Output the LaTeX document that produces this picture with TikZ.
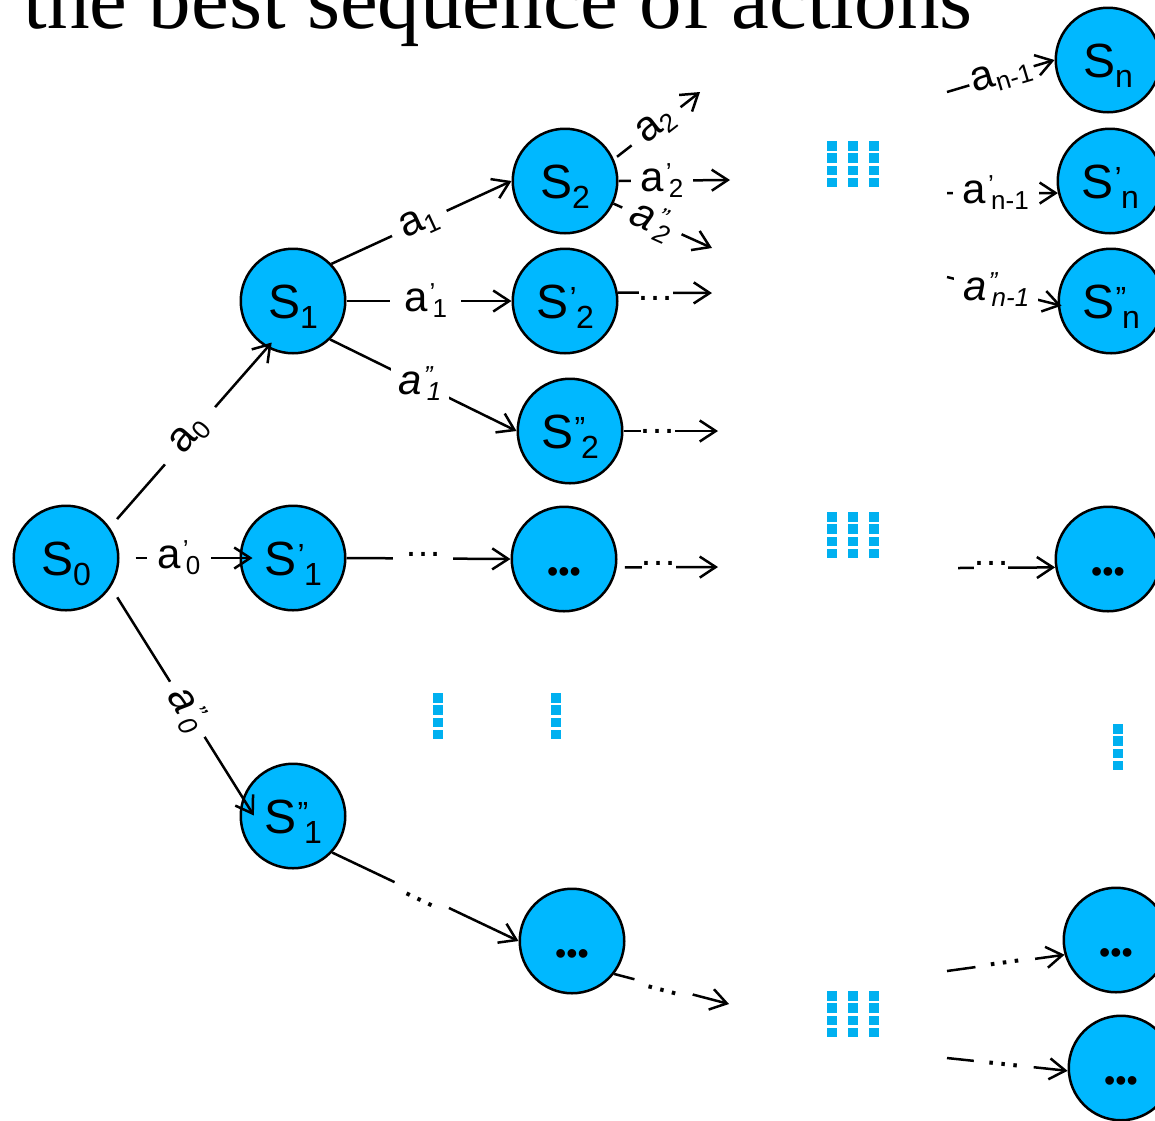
\documentclass[tikz,border=0pt]{standalone}
\usepackage{fontspec}
\setmainfont{Liberation Sans}
\newfontfamily\titlefont{Liberation Serif}
\usetikzlibrary{arrows.meta}
\definecolor{nodeblue}{RGB}{0,184,255}
\definecolor{dotblue}{RGB}{0,176,240}
% state labels
\newcommand\Sa[1]{\raisebox{-17pt}[0pt][0pt]{S\raisebox{-10pt}{\fontsize{32}{32}\selectfont #1}}}
\newcommand\Sb[2]{\raisebox{-17pt}[0pt][0pt]{S\rlap{\raisebox{9pt}{\fontsize{32}{32}\selectfont\kern1.5pt #1}}\kern8pt\raisebox{-10pt}{\fontsize{32}{32}\selectfont #2}}}
\newcommand\Dt{\raisebox{-23.5pt}[0pt][0pt]{\fontsize{32}{32}\selectfont •••}}
% edge labels
\newcommand\Ea[1]{a\raisebox{-6pt}{\fontsize{26}{26}\selectfont #1}}
\newcommand\Eb[2]{a\rlap{\raisebox{10pt}{\fontsize{26}{26}\selectfont\kern2pt #1}}\kern5pt\raisebox{-6pt}{\fontsize{26}{26}\selectfont #2}}
\tikzset{
  state/.style={circle, draw=black, line width=2.5pt, fill=nodeblue, minimum size=104.5pt, inner sep=0pt, font=\fontsize{48}{48}\selectfont},
  edge/.style={line width=2.5pt, -{Straight Barb[length=16pt,width=21pt]}},
  elab/.style={fill=white, inner ysep=0pt, font=\fontsize{42}{42}\selectfont},
  ilab/.style={fill=white, inner ysep=0pt, font=\fontsize{42}{42}\selectfont\itshape},
  dlab/.style={fill=white, inner ysep=8pt, inner xsep=-2pt, font=\fontsize{38}{38}\selectfont},
}
\begin{document}
\begin{tikzpicture}[x=1pt,y=-1pt]
\useasboundingbox (0,0) rectangle (1155,1120);
\clip (0,0) rectangle (1155,1120);
\fill[white] (0,0) rectangle (1155,1120);
% title
\node[anchor=base west, inner sep=0pt, font=\titlefont\fontsize{85}{85}\selectfont] (title) at (23.5,28.5) {the best sequence of actions};
% blue dot columns
\foreach \cx/\cy in {827/141, 848/141, 869/141, 827/512, 848/512, 869/512, 827/991, 848/991, 869/991, 433/693, 551/693, 1113/724} {
  \foreach \k in {0,...,3} \fill[dotblue] (\cx, \cy+\k*12.3) rectangle ++(9.5,9.5);
}
% states
\node[state] (s0) at (66,558) {\Sa{0}};
\node[state] (s1) at (293,301) {\Sa{1}};
\node[state] (s1p) at (293,558) {\Sb{’}{1}};
\node[state] (s1pp) at (293,816) {\Sb{”}{1}};
\node[state] (s2) at (565,181) {\Sa{2}};
\node[state] (s2p) at (565,301) {\Sb{’}{2}};
\node[state] (s2pp) at (570,431) {\Sb{”}{2}};
\node[state] (d2) at (564,559) {\Dt};
\node[state] (d3) at (572,941) {\Dt};
\node[state] (sn) at (1108,60) {\Sa{n}};
\node[state] (snp) at (1110,181) {\Sb{’}{n}};
\node[state] (snpp) at (1111,301) {\Sb{”}{n}};
\node[state] (dn) at (1108,559) {\Dt};
\node[state] (dnb1) at (1116,940) {\Dt};
\node[state] (dnb2) at (1121,1068) {\Dt};
% free ends
\coordinate (e2a) at (700,92);
\coordinate (e2b) at (730,180);
\coordinate (e2c) at (712,248);
\coordinate (e2d) at (712,293);
\coordinate (e2e) at (718,431);
\coordinate (e2f) at (718,567);
\coordinate (e3) at (729,1004);
\coordinate (c16) at (947,92);
\coordinate (c17) at (947,193);
\coordinate (c18) at (947,277);
\coordinate (c19) at (958,568);
\coordinate (c20) at (947,971);
\coordinate (c21) at (947,1058);
% edges
\draw[edge, shorten <=11pt, shorten >=-7pt] (s0.35) -- node[elab, sloped, pos=0.51, inner xsep=19pt]{\Ea{0}} (s1.241);
\draw[edge, shorten <=16pt, shorten >=-13pt] (s0.east) -- node[elab, pos=0.496, inner xsep=11pt]{\Eb{’}{0}} (s1p.west);
\draw[edge, shorten <=12pt, shorten >=-21pt] (s0.-33) -- node[ilab, sloped, pos=0.58, inner xsep=11pt]{\Eb{”}{0}} (s1pp.160);
\draw[edge] (s1.44) -- node[elab, sloped, pos=0.488, inner xsep=11pt]{\Ea{1}} (s2.180);
\draw[edge] (s1.east) -- node[elab, pos=0.48, inner xsep=14pt]{\Eb{’}{1}} (s2p.west);
\draw[edge] (s1.-46) -- node[ilab, pos=0.482, inner xsep=8pt]{\Eb{”}{1}} (s2pp.180);
\draw[edge, shorten <=4pt] (s2.24) -- node[elab, sloped, pos=0.49, inner xsep=12pt]{\Ea{2}} (e2a);
\draw[edge] (s2.east) -- node[elab, pos=0.39, inner xsep=10pt]{\Eb{’}{2}} (e2b);
\draw[edge] (s2.-25) -- node[ilab, sloped, pos=0.39, inner xsep=11pt]{\Eb{”}{2}} (e2c);
\draw[edge] (s2p.9) -- node[dlab, pos=0.40, yshift=-6pt]{…} (e2d);
\draw[edge] (s2pp.east) -- node[dlab, pos=0.363]{…} (e2e);
\draw[edge] (s1p.east) -- node[dlab, pos=0.467, inner xsep=11pt, yshift=4pt]{…} (d2.west);
\draw[edge, shorten <=8pt] (d2.-9) -- node[dlab, pos=0.415, yshift=4pt]{…} (e2f);
\draw[edge] (s1pp.-43) -- node[dlab, sloped, pos=0.481, inner xsep=11pt, yshift=-5pt]{…} (d3.180);
\draw[edge] (d3.-38) -- node[dlab, sloped, pos=0.43, inner xsep=11pt, yshift=-4pt]{…} (e3);
\draw[edge] (c16) -- node[elab, sloped, pos=0.507, inner xsep=3pt]{\Ea{n-1}} (sn.west);
\draw[edge] (c17) -- node[elab, pos=0.44, inner xsep=10pt]{\Eb{’}{n-1}} (snp.193);
\draw[edge, shorten >=-4pt] (c18) -- node[ilab, pos=0.445, inner xsep=9pt]{\Eb{”}{n-1}} (snpp.184);
\draw[edge] (c19) -- node[dlab, pos=0.343, yshift=4pt]{…} (dn.189);
\draw[edge] (c20) -- node[dlab, sloped, pos=0.495, inner xsep=11pt]{…} (dnb1.196);
\draw[edge] (c21) -- node[dlab, sloped, pos=0.471, inner xsep=11pt]{…} (dnb2.183);
\end{tikzpicture}
\end{document}
